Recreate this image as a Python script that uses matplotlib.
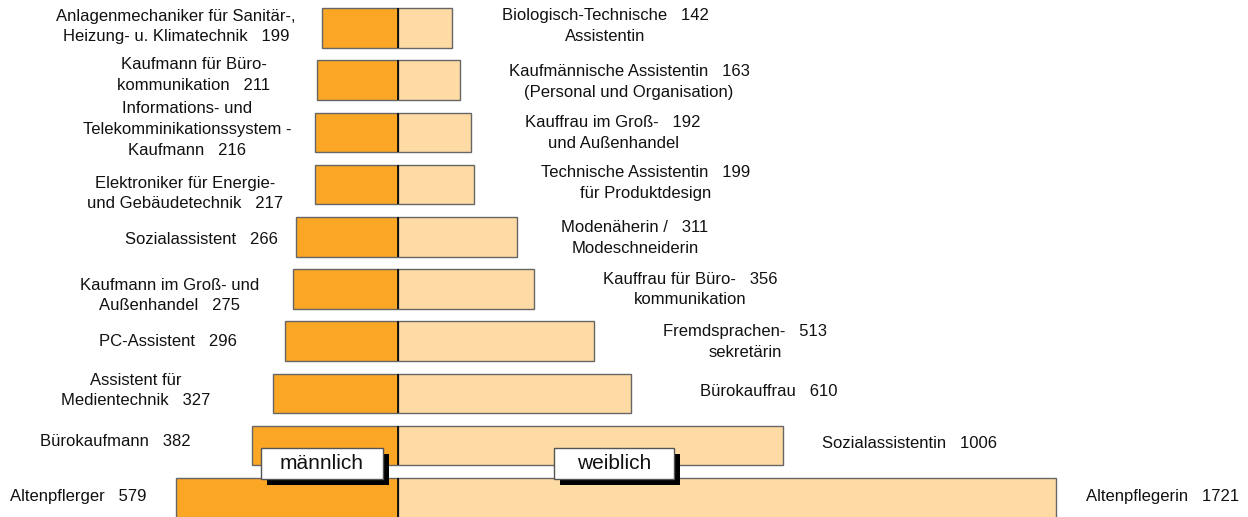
import numpy as np
import matplotlib.pyplot as plt
from matplotlib.patches import Rectangle

plt.rcParams['font.family'] = ['Liberation Sans', 'DejaVu Sans']

# data, top row first
male_names = ['Anlagenmechaniker für Sanitär-,\nHeizung- u. Klimatechnik',
              'Kaufmann für Büro-\nkommunikation',
              'Informations- und\nTelekomminikationssystem -\nKaufmann',
              'Elektroniker für Energie-\nund Gebäudetechnik',
              'Sozialassistent',
              'Kaufmann im Groß- und\nAußenhandel',
              'PC-Assistent',
              'Assistent für\nMedientechnik',
              'Bürokaufmann',
              'Altenpflerger']
male = [199, 211, 216, 217, 266, 275, 296, 327, 382, 579]

female_names = ['Biologisch-Technische\nAssistentin',
                'Kaufmännische Assistentin\n(Personal und Organisation)',
                'Kauffrau im Groß-\nund Außenhandel',
                'Technische Assistentin\nfür Produktdesign',
                'Modenäherin /\nModeschneiderin',
                'Kauffrau für Büro-\nkommunikation',
                'Fremdsprachen-\nsekretärin',
                'Bürokauffrau',
                'Sozialassistentin',
                'Altenpflegerin']
female = [142, 163, 192, 199, 311, 356, 513, 610, 1006, 1721]

legend_labels = ['männlich', 'weiblich']

# layout: pixel centres of the labels in the 1248x517 figure
W, H = 1248, 517
left_lab_x = [176, 194, 187, 185, 201, 170, 168, 136, 115, 78]
left_lab_y = [26.5, 75, 129.5, 193.5, 239, 295.5, 341.5, 390.5, 441, 497]
right_lab_x = [605, 629, 613, 646, 635, 690, 745, 769, 909, 1163]
right_lab_y = [26, 82, 133, 183, 238, 289.5, 342, 391, 443, 497]

c_male = '#FBA625'
c_female = '#FEDBA5'
edge = '#666666'

fig = plt.figure(figsize=(W / 100, H / 100), dpi=100)
ax = fig.add_axes([0, 0, 1, 1])

k = 0.3826          # pixels per person
pitch = 52.2
ax.set_xlim(-398 / k, (W - 398) / k)
ax.set_ylim((H - 28) / pitch, -28 / pitch)
ax.axis('off')

y = np.arange(len(male))
h = 0.757
ax.barh(y, -np.array(male), height=h, color=c_male, edgecolor=edge, linewidth=1)
ax.barh(y, female, height=h, color=c_female, edgecolor=edge, linewidth=1)
ax.vlines(np.zeros(len(y)), y - h / 2, y + h / 2, color='black', linewidth=1.2, zorder=3)

for i in range(len(male)):
    txt = male_names[i] + '   ' + str(male[i])
    fig.text(left_lab_x[i] / W, 1 - left_lab_y[i] / H, txt, ha='center', va='center',
             multialignment='center', fontsize=12, linespacing=1.48, color='#111111')
    parts = female_names[i].split('\n')
    parts[0] = parts[0] + '   ' + str(female[i])
    fig.text(right_lab_x[i] / W, 1 - right_lab_y[i] / H, '\n'.join(parts), ha='center',
             va='center', multialignment='center', fontsize=12, linespacing=1.48,
             color='#111111')

# legend boxes with drop shadow
for lab, x0, w in zip(legend_labels, [261, 554], [122, 120]):
    top, bh = 448, 31
    fx, fy = x0 / W, 1 - (top + bh) / H
    fig.patches.append(Rectangle((fx + 6 / W, fy - 6 / H), w / W, bh / H,
                                 transform=fig.transFigure, facecolor='black',
                                 edgecolor='none', zorder=5))
    fig.patches.append(Rectangle((fx, fy), w / W, bh / H, transform=fig.transFigure,
                                 facecolor='white', edgecolor='#555555', linewidth=1,
                                 zorder=6))
    fig.text(fx + w / 2 / W, fy + bh / 2 / H, lab, ha='center', va='center',
             fontsize=15, color='#111111', zorder=7)

plt.savefig('out.png', dpi=100)
